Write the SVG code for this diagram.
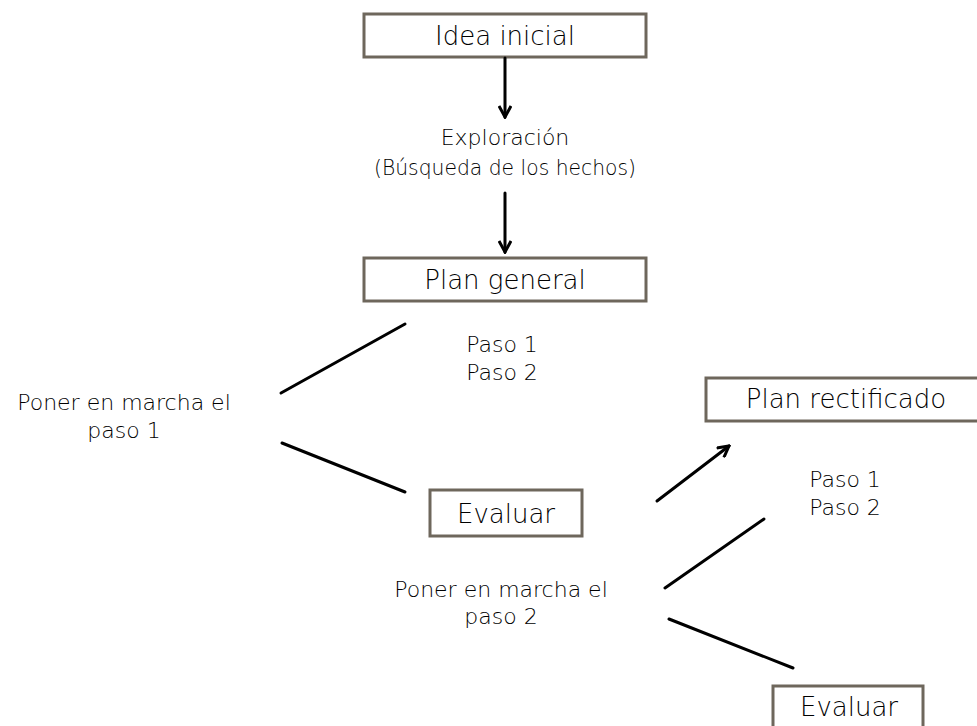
<svg xmlns="http://www.w3.org/2000/svg" width="977" height="726" viewBox="0 0 977 726">
<style>
.box{fill:#fff;stroke:#6e675c;stroke-width:3}
.t{font-family:"DejaVu Sans",sans-serif;font-weight:200;fill:#000;text-anchor:middle}
.big{font-size:26px}
.mid{font-size:22px}
.ln{stroke:#000;stroke-width:3;fill:none;stroke-linecap:round}
</style>
<defs>
<marker id="ah" viewBox="0 0 14 14" refX="12" refY="7" markerWidth="14" markerHeight="14" markerUnits="userSpaceOnUse" orient="auto">
<path d="M1,1 L12,7 L1,13" fill="none" stroke="#000" stroke-width="3"/>
</marker>
</defs>
<rect width="977" height="726" fill="#fff"/>
<g id="idea">
<rect class="box" x="364" y="14" width="282" height="43"/>
<text class="t big" x="505" y="45">Idea inicial</text>
</g>
<g id="exploracion">
<text class="t mid" x="505" y="145">Exploración</text>
<text class="t mid" x="505" y="175" textLength="262" lengthAdjust="spacingAndGlyphs">(Búsqueda de los hechos)</text>
</g>
<g id="plan">
<rect class="box" x="364" y="258" width="282" height="43"/>
<text class="t big" x="505" y="289">Plan general</text>
</g>
<g id="pasos1">
<text class="t mid" x="502" y="352">Paso 1</text>
<text class="t mid" x="502" y="380">Paso 2</text>
</g>
<g id="poner1">
<text class="t mid" x="124" y="410">Poner en marcha el</text>
<text class="t mid" x="124" y="438">paso 1</text>
</g>
<g id="evaluar1">
<rect class="box" x="430" y="490" width="152" height="46"/>
<text class="t big" x="506" y="523">Evaluar</text>
</g>
<g id="rectificado">
<rect class="box" x="706" y="378" width="275" height="43"/>
<text class="t big" x="846" y="408">Plan rectificado</text>
</g>
<g id="pasos2">
<text class="t mid" x="845" y="487">Paso 1</text>
<text class="t mid" x="845" y="515">Paso 2</text>
</g>
<g id="poner2">
<text class="t mid" x="501" y="597">Poner en marcha el</text>
<text class="t mid" x="501" y="624">paso 2</text>
</g>
<g id="evaluar2">
<rect class="box" x="773" y="686" width="150" height="50"/>
<text class="t big" x="849" y="716">Evaluar</text>
</g>
<g id="connectors">
<line class="ln" x1="505" y1="58" x2="505" y2="117" marker-end="url(#ah)"/>
<line class="ln" x1="505" y1="193" x2="505" y2="252" marker-end="url(#ah)"/>
<line class="ln" x1="281" y1="393" x2="405" y2="324"/>
<line class="ln" x1="282" y1="443" x2="405" y2="492"/>
<line class="ln" x1="657" y1="501" x2="729" y2="446" marker-end="url(#ah)"/>
<line class="ln" x1="665" y1="588" x2="764" y2="519"/>
<line class="ln" x1="669" y1="619" x2="793" y2="668"/>
</g>
</svg>
